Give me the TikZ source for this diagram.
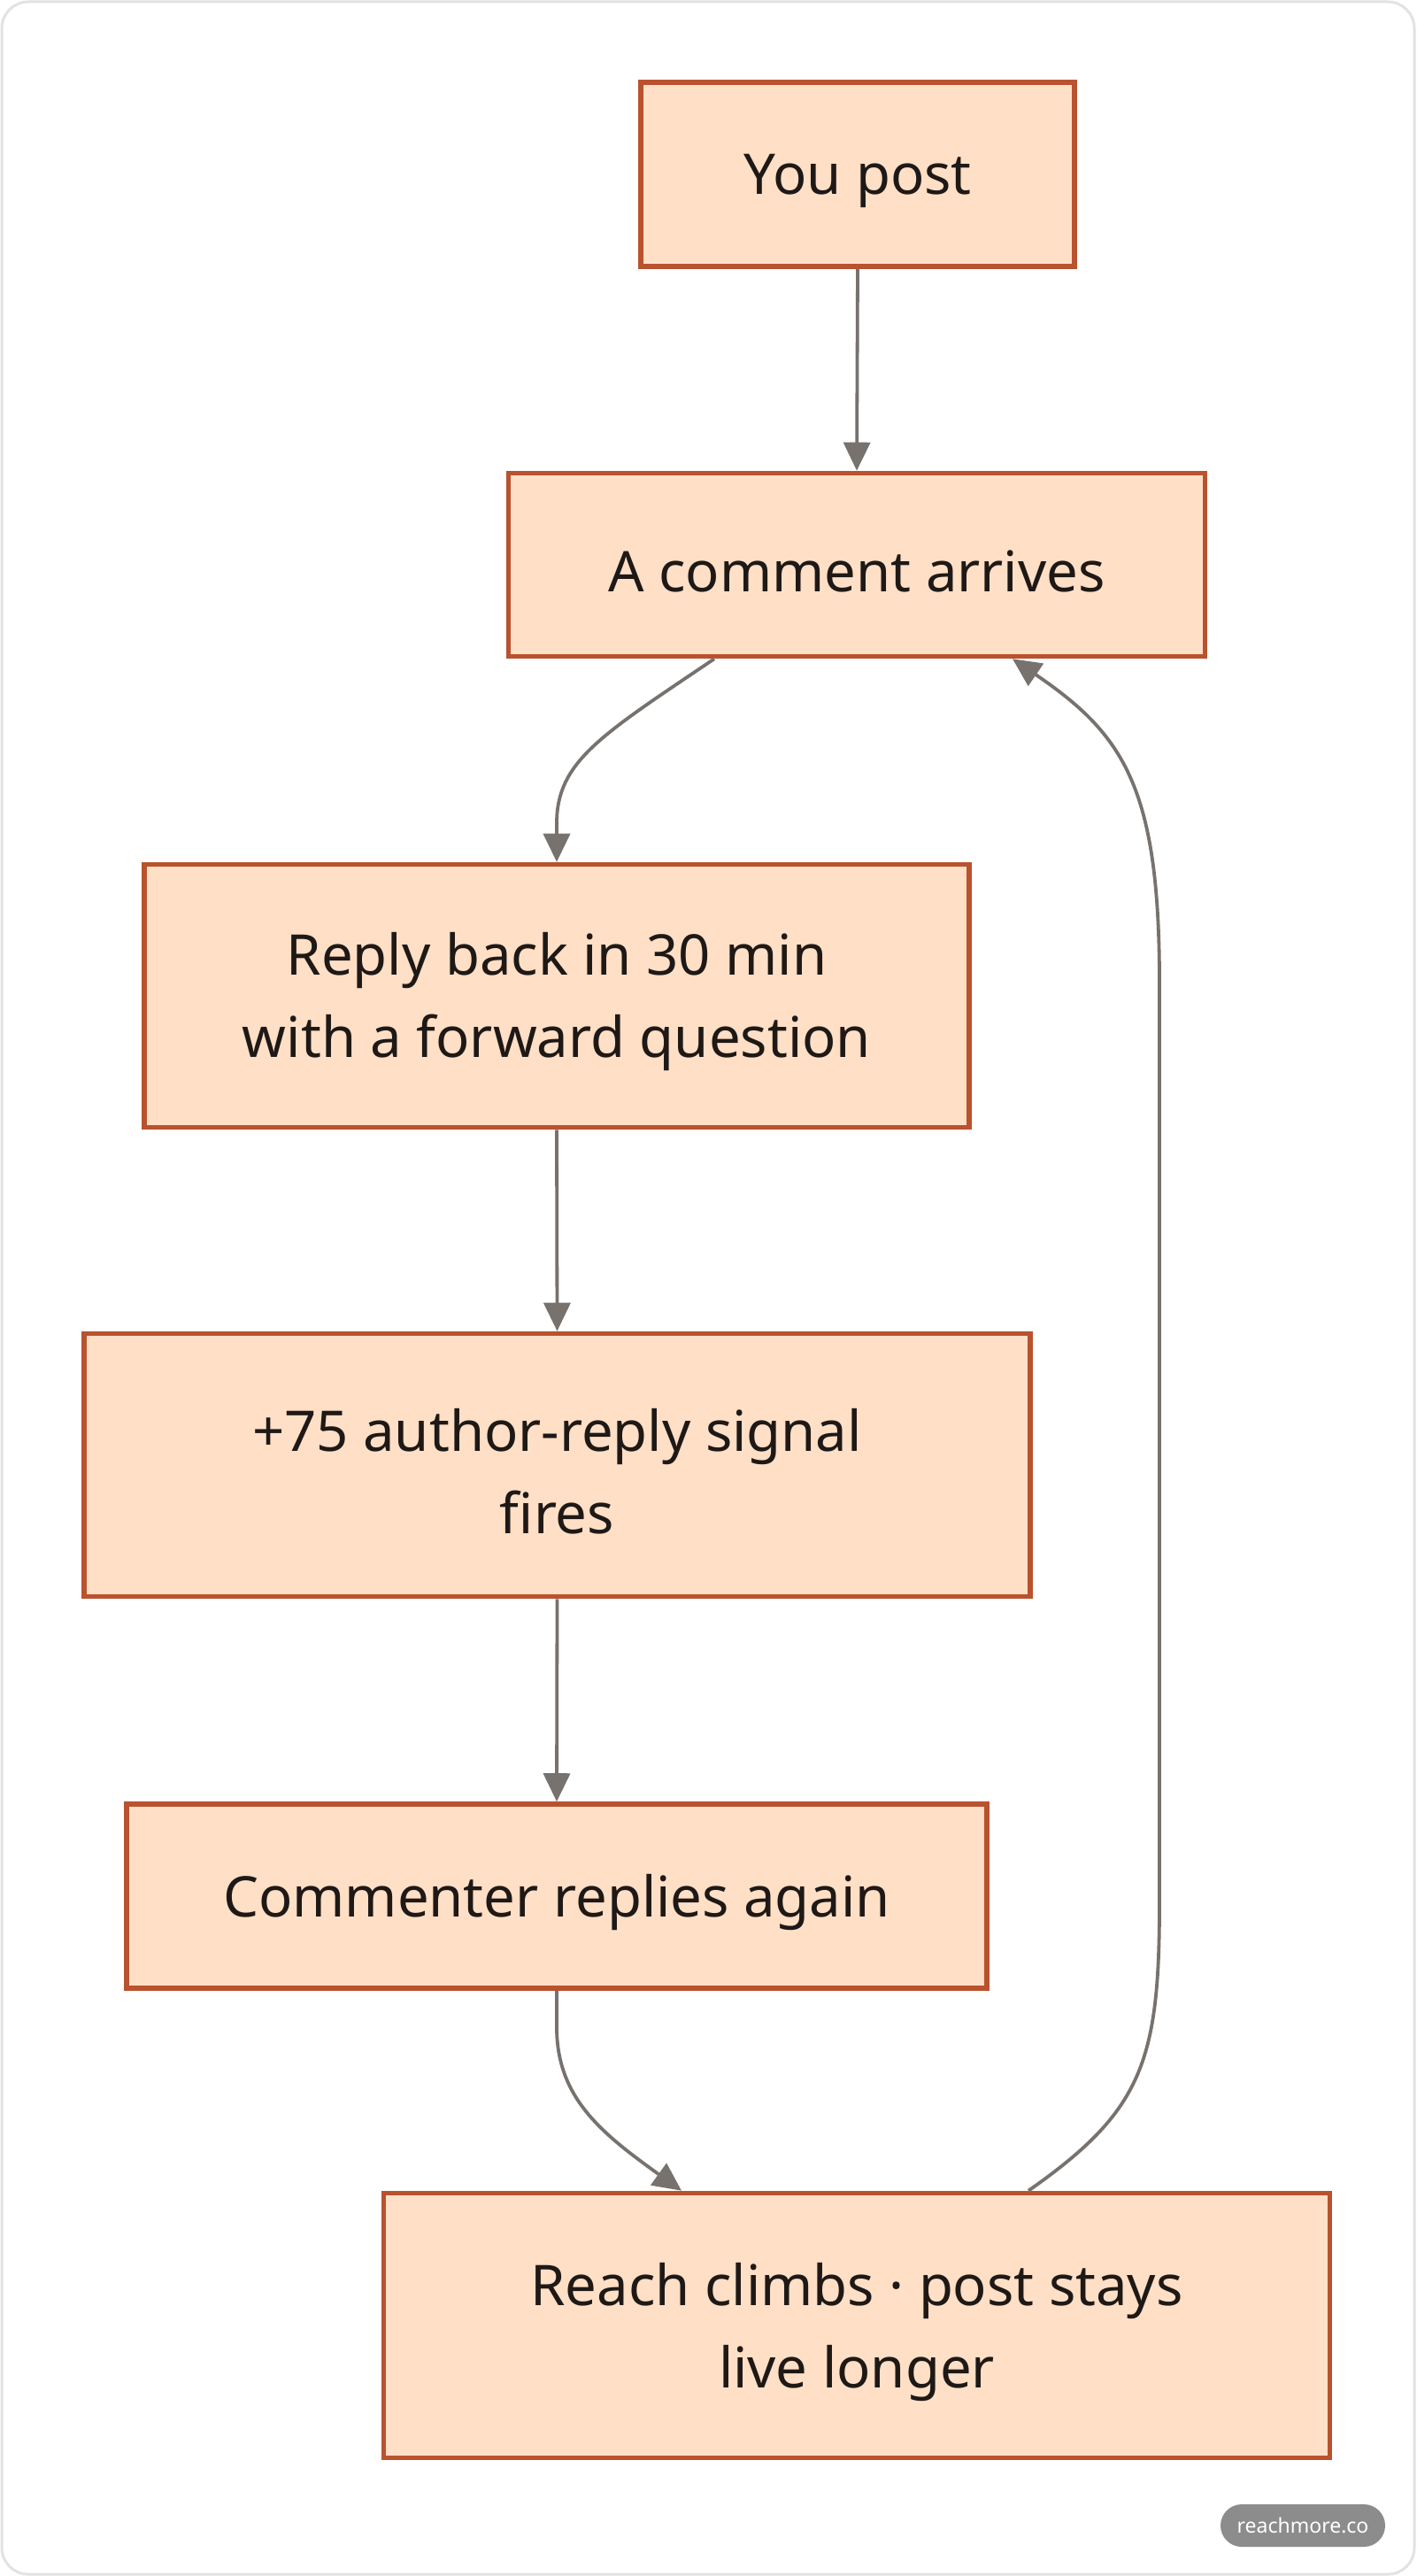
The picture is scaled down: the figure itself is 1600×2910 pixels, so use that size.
\documentclass[tikz,border=0pt]{standalone}
\usepackage{fontspec}
\setmainfont{Noto Sans}
\usetikzlibrary{arrows.meta}
\definecolor{boxfill}{HTML}{FFDFC6}
\definecolor{boxline}{HTML}{B9522E}
\definecolor{edgecol}{HTML}{77726E}
\definecolor{txt}{HTML}{1E1916}
\definecolor{badge}{HTML}{8C8C8C}
\definecolor{frame}{HTML}{E2E2E2}
\tikzset{
  flowbox/.style={draw=boxline, fill=boxfill, line width=2.8pt, inner sep=0pt},
  flowtext/.style={text=txt, font=\fontsize{31.7}{46.5}\selectfont, align=center, inner sep=0pt, yshift=-3.5pt},
  edge/.style={draw=edgecol, line width=1.9pt, -{Triangle[length=16pt,width=15pt]}}
}
\begin{document}
\begin{tikzpicture}[x=0.5pt,y=-0.5pt]
\useasboundingbox (0,0) rectangle (1600,2910);
\draw[frame, line width=1.5pt, fill=white, rounded corners=15pt] (2,2) rectangle (1598,2908);

\node[flowbox, minimum width=245pt, minimum height=104pt, label={[flowtext]center:You post}] (A) at (969,197) {};
\node[flowbox, minimum width=393.5pt, minimum height=103.5pt, label={[flowtext]center:A comment arrives}] (B) at (968,638) {};
\node[flowbox, minimum width=466pt, minimum height=148.5pt, label={[flowtext]center:{Reply back in 30 min\\with a forward question}}] (C) at (629,1125) {};
\node[flowbox, minimum width=534.5pt, minimum height=148.5pt, label={[flowtext]center:{+75 author-reply signal\\fires}}] (D) at (629.5,1655) {};
\node[flowbox, minimum width=486pt, minimum height=104pt, label={[flowtext]center:Commenter replies again}] (E) at (629,2142) {};
\node[flowbox, minimum width=534.5pt, minimum height=149.5pt, label={[flowtext]center:{Reach climbs · post stays\\live longer}}] (F) at (968,2627) {};

\draw[edge] (A.south) -- (B.north);
\draw[edge] ([xshift=-80.5pt]B.south) .. controls (680,830) and (629,860) .. (629,930) -- (C.north);
\draw[edge] (C.south) -- (D.north);
\draw[edge] (D.south) -- (E.north);
\draw[edge] (E.south) -- (629,2290) .. controls (629,2370) and (680,2410) .. ([xshift=-99pt]F.north);
\draw[edge] ([xshift=97pt]F.north) .. controls (1290,2385) and (1310,2330) .. (1310,2150) -- (1310,1110) .. controls (1310,890) and (1270,830) .. ([xshift=88pt]B.south);

\node[fill=badge, text=white, rounded corners=12pt, minimum width=93pt, minimum height=24pt, inner sep=0pt, font=\fontsize{11.5}{14}\selectfont\bfseries] (badge) at (1472,2853) {reachmore.co};
\end{tikzpicture}
\end{document}
